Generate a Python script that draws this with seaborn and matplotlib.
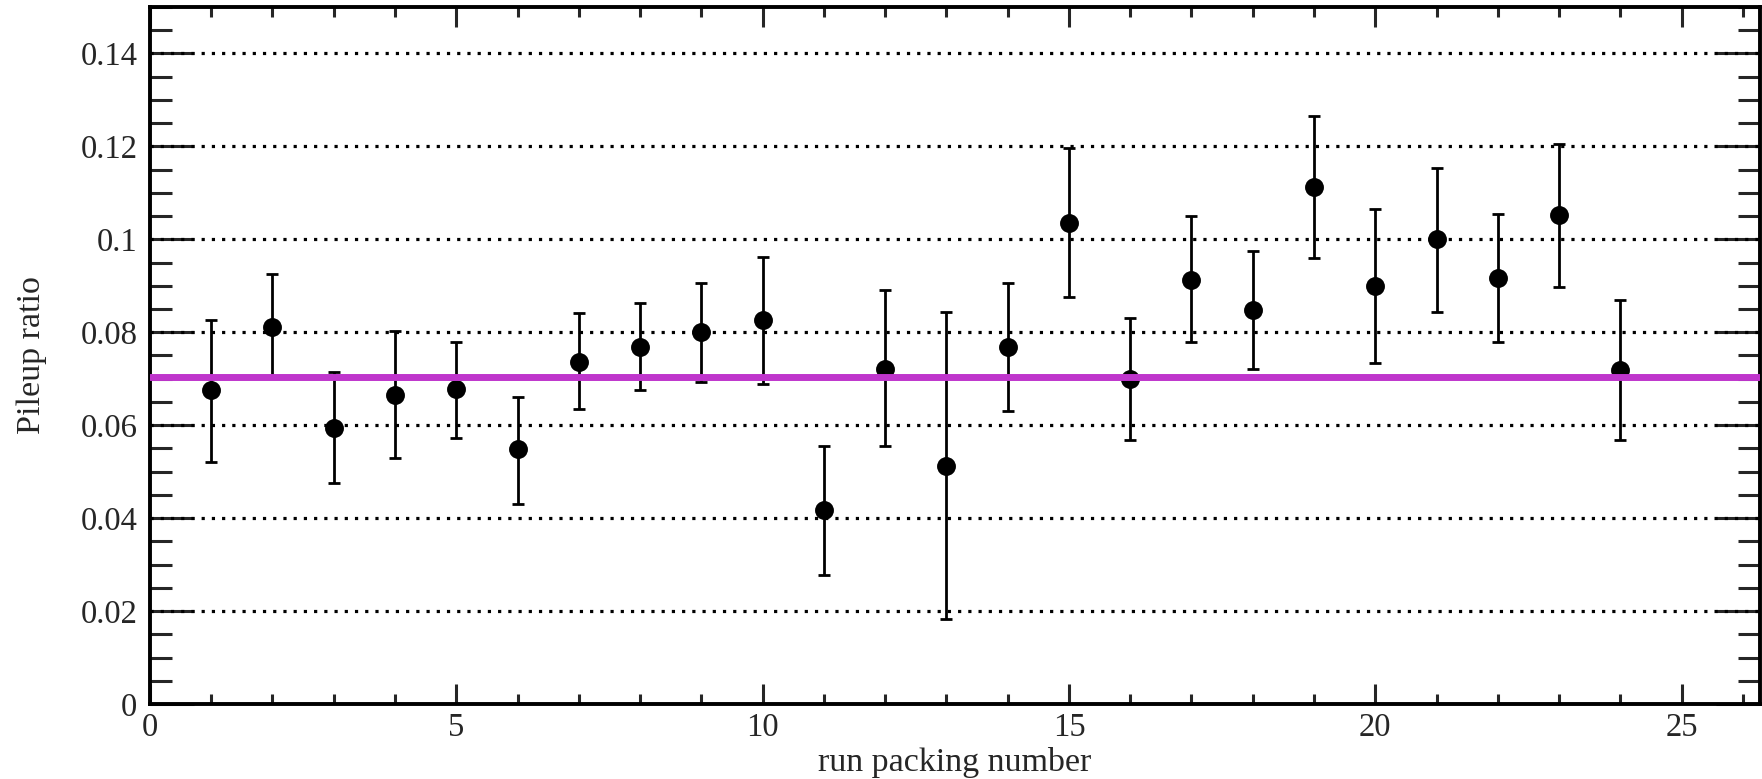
import numpy as np
import pandas as pd
import matplotlib
matplotlib.use("Agg")
import matplotlib.pyplot as plt
from matplotlib.ticker import MultipleLocator
import seaborn as sns

# Pileup ratio per run packing, with asymmetric uncertainties
run_number = [1, 2, 3, 4, 5, 6, 7, 8, 9, 10, 11, 12,
              13, 14, 15, 16, 17, 18, 19, 20, 21, 22, 23, 24]
pileup_ratio = [0.0675, 0.0812, 0.0594, 0.0666, 0.0677, 0.0548, 0.0736, 0.0768,
                0.0800, 0.0826, 0.0417, 0.0722, 0.0512, 0.0768, 0.1035, 0.0699,
                0.0913, 0.0847, 0.1112, 0.0899, 0.1000, 0.0917, 0.1052, 0.0719]
upper_edge = [0.0826, 0.0926, 0.0715, 0.0802, 0.0780, 0.0660, 0.0842, 0.0863,
              0.0907, 0.0963, 0.0556, 0.0890, 0.0843, 0.0906, 0.1196, 0.0830,
              0.1050, 0.0975, 0.1265, 0.1065, 0.1154, 0.1054, 0.1206, 0.0869]
lower_edge = [0.0520, 0.0705, 0.0475, 0.0530, 0.0573, 0.0430, 0.0635, 0.0675,
              0.0693, 0.0688, 0.0278, 0.0556, 0.0183, 0.0631, 0.0875, 0.0569,
              0.0780, 0.0720, 0.0959, 0.0733, 0.0844, 0.0780, 0.0897, 0.0568]
mean_ratio = 0.0703
y_ticks = [0, 0.02, 0.04, 0.06, 0.08, 0.1, 0.12, 0.14]
y_tick_labels = ["0", "0.02", "0.04", "0.06", "0.08", "0.1", "0.12", "0.14"]

df = pd.DataFrame({"run": run_number, "ratio": pileup_ratio,
                   "hi": upper_edge, "lo": lower_edge})

sns.set_style("white")
plt.rcParams["font.family"] = ["Liberation Serif", "DejaVu Serif"]

fig = plt.figure(figsize=(17.62, 7.79), dpi=100)
ax = fig.add_axes([0.0851, 0.0963, 0.9138, 0.8947])

# error bars
yerr = np.vstack([df["ratio"] - df["lo"], df["hi"] - df["ratio"]])
ax.errorbar(df["run"], df["ratio"], yerr=yerr, fmt="none", ecolor="black",
            elinewidth=2.0, capsize=4.3, capthick=2.0, zorder=3)

# data points
sns.scatterplot(data=df, x="run", y="ratio", ax=ax, color="black", s=185,
                edgecolor="black", linewidth=0, zorder=4, legend=False)

# mean level
ax.axhline(mean_ratio, color="#bf35cc", lw=5.0, zorder=5)

ax.set_xlim(0, 26.28)
ax.set_ylim(0, 0.15)

# horizontal dotted grid at major y ticks
for yv in y_ticks[1:]:
    ax.axhline(yv, color="black", lw=2.3, linestyle=(0, (1, 2.2)), zorder=1)

ax.xaxis.set_major_locator(MultipleLocator(5))
ax.xaxis.set_minor_locator(MultipleLocator(1))
ax.yaxis.set_minor_locator(MultipleLocator(0.005))
ax.set_yticks(y_ticks)
ax.set_yticklabels(y_tick_labels)

ax.tick_params(axis="y", which="major", direction="in", length=32, width=2.2,
               left=True, right=True, labelsize=23.5, pad=9)
ax.tick_params(axis="y", which="minor", direction="in", length=16, width=2.2,
               left=True, right=True)
ax.tick_params(axis="x", which="major", direction="in", length=14.5, width=2.2,
               bottom=True, top=True, labelsize=23.5, pad=6)
ax.tick_params(axis="x", which="minor", direction="in", length=7.5, width=2.2,
               bottom=True, top=True)

for sp in ax.spines.values():
    sp.set_linewidth(2.8)
    sp.set_color("black")
    sp.set_visible(True)

ax.set_xlabel("run packing number", fontsize=24.5, labelpad=3)
ax.set_ylabel("Pileup ratio", fontsize=24.5, labelpad=24)

fig.savefig("out.png", dpi=100)
